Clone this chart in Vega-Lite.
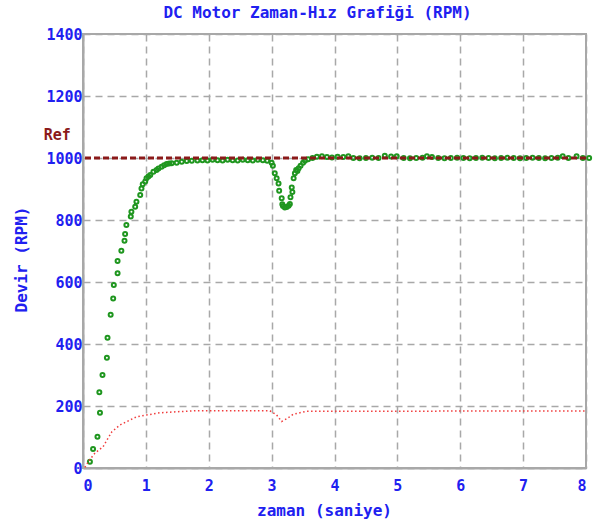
{
  "$schema": "https://vega.github.io/schema/vega-lite/v6.json",
  "autosize": {"type": "none"},
  "width": 503,
  "height": 434,
  "padding": {"left": 83, "top": 34, "right": 11, "bottom": 53},
  "background": "white",
  "title": {
    "text": "DC Motor Zaman-Hız Grafiği (RPM)",
    "font": "DejaVu Sans Mono",
    "fontWeight": "bold",
    "fontSize": 16,
    "color": "#2020f0",
    "anchor": "middle",
    "dx": -17,
    "offset": 6
  },
  "config": {
    "view": {"stroke": "#a8a8a8", "strokeWidth": 2},
    "axis": {
      "grid": true,
      "gridColor": "#a8a8a8",
      "gridDash": [7, 5],
      "gridWidth": 1.5,
      "domainColor": "#a8a8a8",
      "domainWidth": 2,
      "ticks": false,
      "format": "d",
      "labelColor": "#2020f0",
      "labelFont": "DejaVu Sans Mono",
      "labelFontWeight": "bold",
      "labelFontSize": 15,
      "titleColor": "#2020f0",
      "titleFont": "DejaVu Sans Mono",
      "titleFontWeight": "bold",
      "titleFontSize": 16
    }
  },
  "datasets": {
    "speed": [
      {"t": 0.11, "v": 20}, {"t": 0.16, "v": 61}, {"t": 0.23, "v": 101}, {"t": 0.27, "v": 178},
      {"t": 0.26, "v": 244}, {"t": 0.31, "v": 300}, {"t": 0.38, "v": 356}, {"t": 0.39, "v": 420},
      {"t": 0.44, "v": 494}, {"t": 0.48, "v": 547}, {"t": 0.49, "v": 590}, {"t": 0.55, "v": 628},
      {"t": 0.55, "v": 668}, {"t": 0.61, "v": 701}, {"t": 0.66, "v": 733}, {"t": 0.67, "v": 755},
      {"t": 0.69, "v": 784}, {"t": 0.76, "v": 811}, {"t": 0.77, "v": 827}, {"t": 0.83, "v": 843},
      {"t": 0.85, "v": 859}, {"t": 0.91, "v": 881}, {"t": 0.93, "v": 902}, {"t": 0.95, "v": 915},
      {"t": 0.99, "v": 924}, {"t": 1.01, "v": 935}, {"t": 1.04, "v": 940}, {"t": 1.07, "v": 945},
      {"t": 1.12, "v": 956}, {"t": 1.17, "v": 961}, {"t": 1.2, "v": 966}, {"t": 1.25, "v": 972},
      {"t": 1.29, "v": 977}, {"t": 1.33, "v": 981}, {"t": 1.37, "v": 982}, {"t": 1.41, "v": 983},
      {"t": 1.49, "v": 985}, {"t": 1.57, "v": 988}, {"t": 1.65, "v": 990}, {"t": 1.73, "v": 991},
      {"t": 1.82, "v": 992}, {"t": 1.9, "v": 993}, {"t": 1.98, "v": 992}, {"t": 2.06, "v": 994},
      {"t": 2.14, "v": 993}, {"t": 2.22, "v": 992}, {"t": 2.3, "v": 994}, {"t": 2.38, "v": 993},
      {"t": 2.46, "v": 992}, {"t": 2.54, "v": 994}, {"t": 2.62, "v": 993}, {"t": 2.7, "v": 992},
      {"t": 2.78, "v": 994}, {"t": 2.86, "v": 993}, {"t": 2.93, "v": 991}, {"t": 3.0, "v": 985},
      {"t": 3.02, "v": 975}, {"t": 3.05, "v": 951}, {"t": 3.08, "v": 935}, {"t": 3.11, "v": 918},
      {"t": 3.12, "v": 894}, {"t": 3.16, "v": 870}, {"t": 3.17, "v": 851}, {"t": 3.18, "v": 845},
      {"t": 3.21, "v": 840}, {"t": 3.24, "v": 842}, {"t": 3.27, "v": 846}, {"t": 3.29, "v": 852},
      {"t": 3.3, "v": 873}, {"t": 3.32, "v": 905}, {"t": 3.33, "v": 890}, {"t": 3.35, "v": 935},
      {"t": 3.37, "v": 951}, {"t": 3.39, "v": 961}, {"t": 3.41, "v": 958}, {"t": 3.43, "v": 967},
      {"t": 3.46, "v": 975}, {"t": 3.5, "v": 985}, {"t": 3.53, "v": 991}, {"t": 3.58, "v": 996},
      {"t": 3.65, "v": 1000}, {"t": 3.72, "v": 1004}, {"t": 3.8, "v": 1006}, {"t": 3.88, "v": 1003},
      {"t": 3.96, "v": 1002}, {"t": 4.05, "v": 1004}, {"t": 4.14, "v": 1003}, {"t": 4.22, "v": 1006},
      {"t": 4.3, "v": 1000}, {"t": 4.4, "v": 999}, {"t": 4.5, "v": 1000}, {"t": 4.6, "v": 1001},
      {"t": 4.7, "v": 1000}, {"t": 4.8, "v": 1007}, {"t": 4.9, "v": 1005}, {"t": 4.99, "v": 1006},
      {"t": 5.1, "v": 1000}, {"t": 5.2, "v": 999}, {"t": 5.3, "v": 1000}, {"t": 5.4, "v": 1001},
      {"t": 5.47, "v": 1006}, {"t": 5.55, "v": 1003}, {"t": 5.65, "v": 1000}, {"t": 5.75, "v": 999},
      {"t": 5.85, "v": 1000}, {"t": 5.95, "v": 1001}, {"t": 6.05, "v": 1000}, {"t": 6.15, "v": 999},
      {"t": 6.25, "v": 1000}, {"t": 6.35, "v": 1001}, {"t": 6.45, "v": 1000}, {"t": 6.55, "v": 999},
      {"t": 6.65, "v": 1000}, {"t": 6.75, "v": 1001}, {"t": 6.85, "v": 1000}, {"t": 6.95, "v": 999},
      {"t": 7.05, "v": 1000}, {"t": 7.15, "v": 1001}, {"t": 7.25, "v": 1000}, {"t": 7.35, "v": 999},
      {"t": 7.45, "v": 1000}, {"t": 7.55, "v": 1001}, {"t": 7.63, "v": 1006}, {"t": 7.72, "v": 1000},
      {"t": 7.85, "v": 1006}, {"t": 7.95, "v": 1000}, {"t": 8.05, "v": 1000}
    ],
    "signal": [
      {"t": 0.03, "v": 2}, {"t": 0.1, "v": 25}, {"t": 0.19, "v": 48}, {"t": 0.32, "v": 69},
      {"t": 0.38, "v": 90}, {"t": 0.46, "v": 117}, {"t": 0.59, "v": 139}, {"t": 0.69, "v": 149},
      {"t": 0.85, "v": 165}, {"t": 1.01, "v": 171}, {"t": 1.22, "v": 178}, {"t": 1.54, "v": 182},
      {"t": 1.81, "v": 185}, {"t": 2.97, "v": 185}, {"t": 3.08, "v": 171}, {"t": 3.16, "v": 150},
      {"t": 3.25, "v": 160}, {"t": 3.34, "v": 173}, {"t": 3.55, "v": 183}, {"t": 8.0, "v": 184}
    ],
    "ref": [{"t": -0.41, "v": 1074, "label": "Ref"}]
  },
  "layer": [
    {
      "data": {"name": "speed"},
      "mark": {"type": "point", "shape": "circle", "filled": false, "color": "#1f961f", "size": 16, "strokeWidth": 2, "opacity": 1},
      "encoding": {
        "x": {
          "field": "t", "type": "quantitative",
          "scale": {"domain": [0, 8], "nice": false, "zero": false},
          "axis": {"values": [0, 1, 2, 3, 4, 5, 6, 7, 8], "title": "zaman (saniye)", "labelPadding": 10, "titleX": 241, "titleY": 42, "titleBaseline": "middle", "titleAlign": "center"}
        },
        "y": {
          "field": "v", "type": "quantitative",
          "scale": {"domain": [0, 1400], "nice": false},
          "axis": {"values": [0, 200, 400, 600, 800, 1000, 1200, 1400], "title": "Devir (RPM)", "labelPadding": 1, "titleX": -62, "titleY": 225, "titleBaseline": "middle", "titleAlign": "center", "titleAngle": -90}
        }
      }
    },
    {
      "data": {"name": "signal"},
      "mark": {"type": "line", "color": "#f03c3c", "strokeWidth": 1.5, "strokeDash": [1.5, 2.5]},
      "encoding": {
        "x": {"field": "t", "type": "quantitative"},
        "y": {"field": "v", "type": "quantitative"}
      }
    },
    {
      "data": {"values": [{"v": 1000}]},
      "mark": {"type": "rule", "color": "#8b1a1a", "strokeWidth": 3, "strokeDash": [6, 3]},
      "encoding": {
        "y": {"field": "v", "type": "quantitative"}
      }
    },
    {
      "data": {"name": "ref"},
      "mark": {"type": "text", "font": "DejaVu Sans Mono", "fontWeight": "bold", "fontSize": 15, "color": "#8b1a1a", "align": "center", "baseline": "middle"},
      "encoding": {
        "x": {"field": "t", "type": "quantitative"},
        "y": {"field": "v", "type": "quantitative"},
        "text": {"field": "label"}
      }
    }
  ]
}
